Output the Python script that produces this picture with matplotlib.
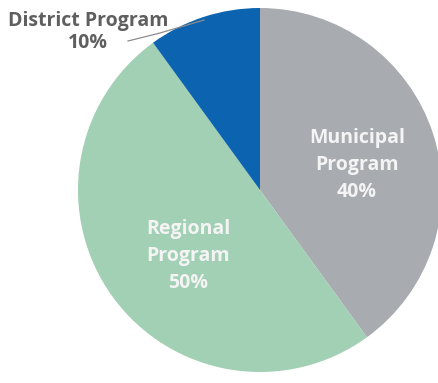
import matplotlib
matplotlib.use('Agg')
import matplotlib.pyplot as plt

# data
labels = ['Municipal\nProgram', 'Regional\nProgram', 'District Program']
shares = [40, 50, 10]
colors = ['#A8ABB0', '#A2D0B4', '#0C63AF']

W, H = 439, 383
CX, CY, R = 260, 190, 182

fig = plt.figure(figsize=(W / 100, H / 100), dpi=100, facecolor='white')
ax = fig.add_axes([0, 0, 1, 1])

ax.pie(shares, colors=colors, startangle=90, counterclock=False,
       center=(CX, H - CY), radius=R, wedgeprops=dict(linewidth=0))
ax.set_xlim(0, W)
ax.set_ylim(0, H)
ax.set_aspect('auto')
ax.axis('off')

FONT = ['Open Sans', 'DejaVu Sans']

# inner labels
ax.text(357, H - 165, f"{labels[0]}\n{shares[0]}%", ha='center', va='center',
        fontsize=14, fontweight='bold', color='#F4F4F4', family=FONT,
        linespacing=1.45)
ax.text(188, H - 256, f"{labels[1]}\n{shares[1]}%", ha='center', va='center',
        fontsize=14, fontweight='bold', color='#F4F4F4', family=FONT,
        linespacing=1.45)

# outside label with leader line
ax.text(88, H - 32, f"{labels[2]}\n{shares[2]}%", ha='center', va='center',
        fontsize=14, fontweight='bold', color='#5F5F5F', family=FONT,
        linespacing=1.15)
ax.plot([128, 160, 204], [H - 41, H - 33, H - 20], color='#8C8C8C', lw=0.9)

fig.savefig('out.png', dpi=100, facecolor='white')
